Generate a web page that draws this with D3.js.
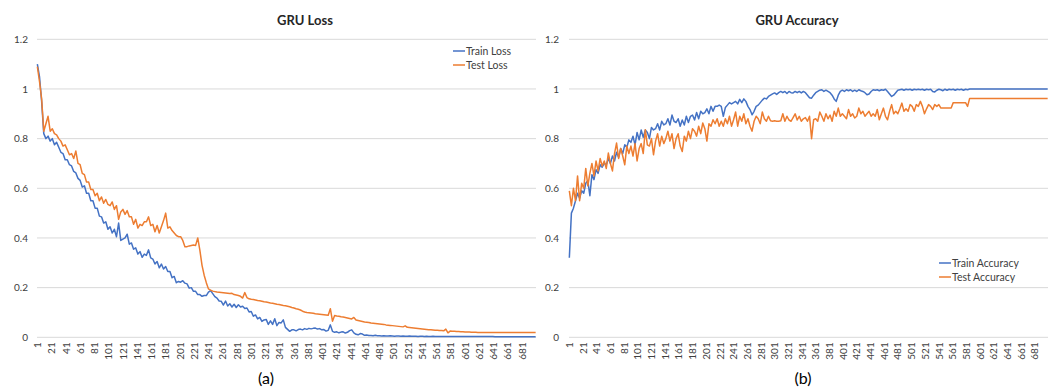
<!DOCTYPE html>
<html>
<head>
<meta charset="utf-8">
<script src="https://cdn.jsdelivr.net/npm/d3@7"></script>
<style>
  html, body { margin: 0; padding: 0; background: #fff; }
  svg { display: block; font-family: Lato, 'Open Sans', sans-serif; }
</style>
</head>
<body>
<svg id="chart" width="1056" height="392"></svg>
<script>
// ─── Data ─────────────────────────────────────────────────────────────────────
// one value every SAMPLE_STEP epochs (epoch 1, 4, 7, ... 700)
const EPOCH_COUNT = 700
const SAMPLE_STEP = 3
const X_TICKS = d3.range(1, EPOCH_COUNT, 20)
const Y_TICKS = [0, 0.2, 0.4, 0.6, 0.8, 1, 1.2]

const trainLoss = [
  1.10, 1.05, 0.95, 0.82, 0.80, 0.81, 0.79, 0.80, 0.775, 0.785,
  0.765, 0.745, 0.74, 0.715, 0.715, 0.695, 0.69, 0.668, 0.662, 0.64,
  0.632, 0.605, 0.61, 0.58, 0.58, 0.55, 0.55, 0.52, 0.52, 0.488,
  0.485, 0.46, 0.465, 0.435, 0.445, 0.42, 0.435, 0.405, 0.46, 0.39,
  0.395, 0.40, 0.415, 0.375, 0.38, 0.355, 0.36, 0.335, 0.345, 0.322,
  0.335, 0.33, 0.352, 0.32, 0.315, 0.295, 0.305, 0.28, 0.295, 0.275,
  0.285, 0.265, 0.265, 0.24, 0.245, 0.22, 0.225, 0.222, 0.228, 0.218,
  0.215, 0.198, 0.20, 0.185, 0.185, 0.172, 0.172, 0.165, 0.168, 0.168,
  0.182, 0.188, 0.176, 0.164, 0.158, 0.146, 0.145, 0.13, 0.146, 0.126,
  0.135, 0.122, 0.133, 0.12, 0.131, 0.122, 0.125, 0.116, 0.118, 0.102,
  0.104, 0.085, 0.09, 0.074, 0.08, 0.064, 0.07, 0.072, 0.052, 0.066,
  0.052, 0.075, 0.047, 0.06, 0.058, 0.07, 0.04, 0.032, 0.024, 0.03,
  0.03, 0.026, 0.031, 0.033, 0.03, 0.035, 0.032, 0.036, 0.034, 0.036,
  0.037, 0.033, 0.035, 0.03, 0.031, 0.025, 0.028, 0.05, 0.024, 0.02,
  0.022, 0.018, 0.021, 0.022, 0.017, 0.02, 0.027, 0.03, 0.018, 0.012,
  0.01, 0.015, 0.013, 0.008, 0.009, 0.007, 0.007, 0.006, 0.008, 0.006,
  0.006, 0.005, 0.006, 0.005, 0.005, 0.006, 0.005, 0.004, 0.005, 0.005,
  0.004, 0.005, 0.004, 0.004, 0.005, 0.004, 0.004, 0.004, 0.003, 0.004,
  0.004, 0.003, 0.004, 0.003, 0.003, 0.004, 0.003, 0.003, 0.003, 0.003,
  0.003, 0.003, 0.003, 0.003, 0.003, 0.003, 0.003, 0.003, 0.003, 0.003,
  0.003, 0.003, 0.003, 0.003, 0.003, 0.003, 0.003, 0.003, 0.003, 0.003,
  0.003, 0.003, 0.003, 0.003, 0.002, 0.002, 0.002, 0.002, 0.002, 0.002,
  0.002, 0.002, 0.002, 0.002, 0.002, 0.002, 0.002, 0.002, 0.002, 0.002,
  0.002, 0.002, 0.002, 0.002
]

const testLoss = [
  1.09, 1.03, 0.96, 0.83, 0.86, 0.89, 0.83, 0.84, 0.82, 0.815,
  0.80, 0.79, 0.77, 0.775, 0.755, 0.735, 0.74, 0.72, 0.75, 0.70,
  0.695, 0.66, 0.655, 0.625, 0.625, 0.595, 0.595, 0.57, 0.58, 0.55,
  0.565, 0.54, 0.555, 0.535, 0.53, 0.545, 0.515, 0.53, 0.475, 0.505,
  0.515, 0.495, 0.51, 0.485, 0.485, 0.455, 0.475, 0.44, 0.455, 0.45,
  0.465, 0.465, 0.485, 0.45, 0.455, 0.425, 0.45, 0.42, 0.445, 0.47,
  0.50, 0.44, 0.445, 0.43, 0.42, 0.41, 0.405, 0.405, 0.39, 0.365,
  0.365, 0.368, 0.37, 0.372, 0.37, 0.40, 0.35, 0.29, 0.25, 0.22,
  0.195, 0.19, 0.186, 0.184, 0.182, 0.181, 0.18, 0.179, 0.178, 0.177,
  0.176, 0.177, 0.172, 0.17, 0.168, 0.165, 0.158, 0.18, 0.16, 0.155,
  0.153, 0.152, 0.15, 0.148, 0.147, 0.145, 0.143, 0.142, 0.14, 0.138,
  0.137, 0.135, 0.133, 0.132, 0.13, 0.128, 0.127, 0.125, 0.123, 0.12,
  0.118, 0.115, 0.113, 0.11, 0.105, 0.102, 0.10, 0.099, 0.098, 0.097,
  0.095, 0.094, 0.093, 0.092, 0.091, 0.09, 0.089, 0.115, 0.065, 0.088,
  0.086, 0.085, 0.083, 0.082, 0.08, 0.078, 0.076, 0.074, 0.08, 0.07,
  0.068, 0.066, 0.064, 0.062, 0.061, 0.06, 0.058, 0.057, 0.056, 0.055,
  0.054, 0.053, 0.052, 0.05, 0.049, 0.048, 0.047, 0.046, 0.045, 0.044,
  0.043, 0.042, 0.046, 0.04, 0.039, 0.038, 0.037, 0.036, 0.035, 0.034,
  0.033, 0.032, 0.031, 0.03, 0.03, 0.029, 0.028, 0.028, 0.027, 0.027,
  0.026, 0.033, 0.018, 0.025, 0.024, 0.024, 0.023, 0.023, 0.022, 0.022,
  0.021, 0.021, 0.021, 0.02, 0.02, 0.02, 0.019, 0.019, 0.019, 0.019,
  0.019, 0.019, 0.019, 0.019, 0.019, 0.019, 0.019, 0.019, 0.019, 0.019,
  0.019, 0.019, 0.019, 0.019, 0.019, 0.019, 0.019, 0.019, 0.019, 0.019,
  0.019, 0.019, 0.019, 0.019
]

const trainAcc = [
  0.32, 0.50, 0.52, 0.55, 0.58, 0.56, 0.59, 0.58, 0.62, 0.63,
  0.57, 0.655, 0.635, 0.675, 0.66, 0.695, 0.685, 0.70, 0.695, 0.72,
  0.70, 0.73, 0.71, 0.745, 0.725, 0.76, 0.74, 0.775, 0.765, 0.795,
  0.785, 0.81, 0.775, 0.825, 0.795, 0.835, 0.805, 0.835, 0.825, 0.80,
  0.845, 0.835, 0.84, 0.86, 0.835, 0.87, 0.855, 0.86, 0.88, 0.855,
  0.895, 0.87, 0.865, 0.88, 0.85, 0.875, 0.855, 0.89, 0.865, 0.89,
  0.895, 0.875, 0.905, 0.88, 0.91, 0.90, 0.905, 0.92, 0.90, 0.93,
  0.91, 0.93, 0.93, 0.935, 0.93, 0.89, 0.925, 0.935, 0.945, 0.94,
  0.945, 0.95, 0.94, 0.958, 0.945, 0.96, 0.95, 0.93, 0.917, 0.896,
  0.91, 0.93, 0.935, 0.945, 0.955, 0.963, 0.96, 0.97, 0.975, 0.98,
  0.984, 0.978, 0.985, 0.99, 0.985, 0.99, 0.982, 0.99, 0.985, 0.984,
  0.99, 0.985, 0.99, 0.984, 0.99, 0.985, 0.975, 0.965, 0.963, 0.975,
  0.985, 0.99, 0.995, 0.997, 0.99, 0.995, 0.99, 0.985, 0.975, 0.96,
  0.95, 0.975, 0.99, 0.995, 0.99, 0.997, 0.993, 0.997, 0.99, 0.995,
  0.99, 0.997, 0.993, 0.99, 0.985, 0.977, 0.98, 0.99, 0.997, 0.995,
  0.997, 0.993, 0.997, 0.995, 0.999, 0.99, 0.98, 0.97, 0.975, 0.985,
  0.995, 0.997, 0.999, 0.995, 0.999, 0.997, 0.999, 0.995, 0.999, 0.997,
  0.999, 0.997, 0.999, 0.995, 0.999, 0.997, 0.999, 0.99, 0.988, 0.995,
  0.999, 0.997, 0.993, 0.999, 0.995, 0.999, 0.997, 0.999, 0.995, 0.999,
  0.997, 0.999, 0.995, 0.999, 0.997, 1, 1, 1, 1, 1,
  1, 1, 1, 1, 1, 1, 1, 1, 1, 1,
  1, 1, 1, 1, 1, 1, 1, 1, 1, 1,
  1, 1, 1, 1, 1, 1, 1, 1, 1, 1,
  1, 1, 1, 1
]

const testAcc = [
  0.59, 0.53, 0.60, 0.55, 0.65, 0.55, 0.62, 0.60, 0.68, 0.61,
  0.66, 0.70, 0.65, 0.71, 0.67, 0.72, 0.69, 0.71, 0.68, 0.742,
  0.70, 0.67, 0.74, 0.782, 0.72, 0.76, 0.73, 0.695, 0.77, 0.74,
  0.77, 0.73, 0.78, 0.71, 0.76, 0.78, 0.74, 0.836, 0.775, 0.77,
  0.80, 0.735, 0.79, 0.82, 0.77, 0.81, 0.78, 0.80, 0.83, 0.79,
  0.82, 0.76, 0.80, 0.82, 0.77, 0.748, 0.81, 0.79, 0.83, 0.80,
  0.84, 0.83, 0.81, 0.85, 0.82, 0.863, 0.84, 0.79, 0.86, 0.85,
  0.876, 0.86, 0.88, 0.85, 0.87, 0.85, 0.88, 0.86, 0.89, 0.85,
  0.876, 0.907, 0.85, 0.89, 0.87, 0.90, 0.86, 0.88, 0.85, 0.83,
  0.87, 0.89, 0.88, 0.86, 0.907, 0.88, 0.87, 0.89, 0.872, 0.87,
  0.872, 0.87, 0.87, 0.872, 0.90, 0.87, 0.89, 0.875, 0.87, 0.885,
  0.90, 0.875, 0.89, 0.87, 0.88, 0.885, 0.87, 0.89, 0.80, 0.876,
  0.88, 0.87, 0.907, 0.89, 0.87, 0.90, 0.88, 0.895, 0.87, 0.91,
  0.89, 0.923, 0.89, 0.90, 0.89, 0.88, 0.917, 0.89, 0.90, 0.883,
  0.89, 0.923, 0.90, 0.91, 0.89, 0.90, 0.91, 0.89, 0.90, 0.89,
  0.917, 0.876, 0.90, 0.923, 0.89, 0.876, 0.91, 0.937, 0.90, 0.91,
  0.90, 0.92, 0.943, 0.91, 0.92, 0.91, 0.937, 0.93, 0.91, 0.937,
  0.93, 0.95, 0.93, 0.90, 0.92, 0.937, 0.93, 0.917, 0.937, 0.93,
  0.937, 0.923, 0.923, 0.923, 0.923, 0.923, 0.923, 0.945, 0.945, 0.945,
  0.945, 0.945, 0.945, 0.945, 0.93, 0.962, 0.962, 0.962, 0.962, 0.962,
  0.962, 0.962, 0.962, 0.962, 0.962, 0.962, 0.962, 0.962, 0.962, 0.962,
  0.962, 0.962, 0.962, 0.962, 0.962, 0.962, 0.962, 0.962, 0.962, 0.962,
  0.962, 0.962, 0.962, 0.962, 0.962, 0.962, 0.962, 0.962, 0.962, 0.962,
  0.962, 0.962, 0.962, 0.962
]

const BLUE = '#4472C4'
const ORANGE = '#ED7D31'

const panels = [
  {
    title: 'GRU Loss', caption: '(a)',
    series: [
      { name: 'Train Loss', values: trainLoss, color: BLUE },
      { name: 'Test Loss', values: testLoss, color: ORANGE },
    ],
    plot: { x0: 37, x1: 536, y0: 39.3, y1: 337.3 },
    titleX: 305, captionX: 266, labelRight: 28,
    legend: { x: 453, y: 51 },
  },
  {
    title: 'GRU Accuracy', caption: '(b)',
    series: [
      { name: 'Train Accuracy', values: trainAcc, color: BLUE },
      { name: 'Test Accuracy', values: testAcc, color: ORANGE },
    ],
    plot: { x0: 569, x1: 1048, y0: 39.3, y1: 337.3 },
    titleX: 797, captionX: 803, labelRight: 559,
    legend: { x: 939, y: 263 },
  },
]

// ─── Drawing ──────────────────────────────────────────────────────────────────
const svg = d3.select('#chart')
const epochs = d3.range(1, EPOCH_COUNT + 1)

function drawPanel(p) {
  const g = svg.append('g')

  const x = d3.scaleBand().domain(epochs).range([p.plot.x0, p.plot.x1])
  const xc = e => x(e) + x.bandwidth() / 2
  const y = d3.scaleLinear().domain([0, 1.2]).range([p.plot.y1, p.plot.y0])

  // gridlines
  g.append('g')
    .selectAll('line')
    .data(Y_TICKS)
    .join('line')
    .attr('x1', p.plot.x0).attr('x2', p.plot.x1)
    .attr('y1', d => y(d)).attr('y2', d => y(d))
    .attr('stroke', '#d9d9d9')
    .attr('stroke-width', 1)

  // y axis labels
  const yAxis = g.append('g')
    .attr('transform', `translate(${p.plot.x0},0)`)
    .call(d3.axisLeft(y).tickValues(Y_TICKS).tickSize(0)
      .tickPadding(p.plot.x0 - p.labelRight)
      .tickFormat(d => String(+d.toFixed(1))))
  yAxis.select('.domain').remove()
  yAxis.selectAll('text')
    .attr('fill', '#404040')
    .style('font-size', '10px')
    .style('font-family', 'Lato, sans-serif')

  // x axis labels, rotated
  const xAxis = g.append('g')
    .attr('transform', `translate(0,${p.plot.y1})`)
    .call(d3.axisBottom(x).tickValues(X_TICKS).tickSize(0))
  xAxis.select('.domain').remove()
  xAxis.selectAll('text')
    .attr('transform', 'rotate(-90)')
    .attr('x', -5).attr('y', 0).attr('dy', '0.35em')
    .style('text-anchor', 'end')
    .attr('fill', '#404040')
    .style('font-size', '10px')
    .style('font-family', 'Lato, sans-serif')

  // series
  const line = d3.line()
    .x((d, i) => xc(1 + i * SAMPLE_STEP))
    .y(d => y(d))

  p.series.forEach(s => {
    g.append('path')
      .datum(s.values)
      .attr('d', line)
      .attr('fill', 'none')
      .attr('stroke', s.color)
      .attr('stroke-width', 1.5)
      .attr('stroke-linejoin', 'round')
  })

  // title
  g.append('text')
    .attr('x', p.titleX).attr('y', 25)
    .attr('text-anchor', 'middle')
    .attr('fill', '#262626')
    .style('font-size', '13px')
    .style('font-weight', 700)
    .text(p.title)

  // legend
  const lg = g.append('g')
    .attr('transform', `translate(${p.legend.x},${p.legend.y})`)
  p.series.forEach((s, i) => {
    const row = lg.append('g').attr('transform', `translate(0,${i * 14})`)
    row.append('line')
      .attr('x1', 0).attr('x2', 12)
      .attr('stroke', s.color).attr('stroke-width', 1.5)
    row.append('text')
      .attr('x', 13).attr('dy', '0.35em')
      .attr('fill', '#404040')
      .style('font-size', '10.5px')
      .text(s.name)
  })

  // caption
  g.append('text')
    .attr('x', p.captionX).attr('y', 384)
    .attr('text-anchor', 'middle')
    .attr('fill', '#000')
    .style('font-size', '16px')
    .text(p.caption)
}

panels.forEach(drawPanel)
</script>
</body>
</html>
